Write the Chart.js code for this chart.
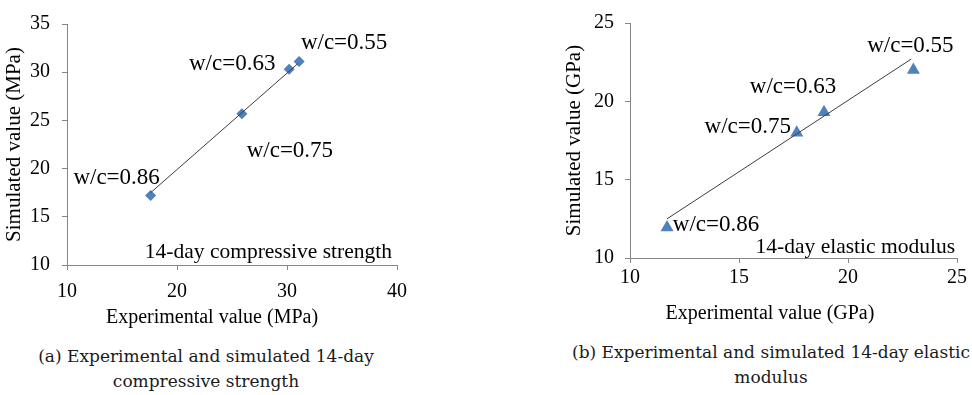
<!DOCTYPE html>
<html>
<head>
<meta charset="utf-8">
<script src="https://cdn.jsdelivr.net/npm/chart.js@4/dist/chart.umd.min.js"></script>
<style>
  html, body { margin: 0; padding: 0; background: #fff; }
  body { width: 972px; height: 395px; position: relative; overflow: hidden; }
  .panel { position: absolute; }
  .xtitle { position: absolute; font-family: "Liberation Serif", serif; font-size: 20px; line-height: 24px;
            white-space: nowrap; color: #000; transform: translateX(-50%); }
  .cap { position: absolute; width: 400px; font-family: "DejaVu Serif", serif; font-size: 17px; line-height: 25px;
         text-align: center; white-space: nowrap; color: #1a1a1a; }
  .preload { position: absolute; left: -9999px; top: 0; font-family: "Liberation Serif"; font-size: 20px; }
</style>
</head>
<body>
<span class="preload">w/c=0.55 14-day</span>
<div class="panel" style="left:0;top:0;width:420px;height:335px;"><canvas id="c1"></canvas></div>
<div class="panel" style="left:545px;top:0;width:427px;height:330px;"><canvas id="c2"></canvas></div>
<div class="xtitle" style="left:212px;top:304px;">Experimental value (MPa)</div>
<div class="xtitle" style="left:770px;top:300px;">Experimental value (GPa)</div>
<div class="cap" style="left:6px;top:344px;">(a) Experimental and simulated 14-day<br>compressive strength</div>
<div class="cap" style="left:571px;top:340px;">(b) Experimental and simulated 14-day elastic<br>modulus</div>
<script>
// ---- data ----
const wcLabels = ['w/c=0.55', 'w/c=0.63', 'w/c=0.75', 'w/c=0.86'];

const compExperimental = [31.1, 30.2, 25.9, 17.6];
const compSimulated    = [31.1, 30.3, 25.7, 17.2];
const compTrendX = [17.6, 31.0];
const compTrendY = [17.5, 30.9];
const compXTicks = [10, 20, 30, 40];
const compYTicks = [10, 15, 20, 25, 30, 35];

const elasExperimental = [23.0, 18.9, 17.65, 11.7];
const elasSimulated    = [22.0, 19.3, 18.0, 11.95];
const elasTrendX = [11.7, 22.9];
const elasTrendY = [12.5, 22.7];
const elasXTicks = [10, 15, 20, 25];
const elasYTicks = [10, 15, 20, 25];

const compNote = '14-day compressive strength';
const elasNote = '14-day elastic modulus';
const compYTitle = 'Simulated value (MPa)';
const elasYTitle = 'Simulated value (GPa)';

// ---- helpers ----
const toPts = (xs, ys) => xs.map((x, i) => ({ x: x, y: ys[i] }));
const AXIS = '#868686';
const MARK = '#4F81BD';
const SERIF = "'Liberation Serif', 'Times New Roman', serif";

const labelPlugin = {
  id: 'pointLabels',
  afterDatasetsDraw(chart, args, opts) {
    const ctx = chart.ctx;
    const meta = chart.getDatasetMeta(opts.datasetIndex);
    ctx.save();
    ctx.font = opts.font;
    ctx.fillStyle = '#000';
    ctx.textAlign = 'center';
    ctx.textBaseline = 'middle';
    opts.labels.forEach((t, i) => {
      const el = meta.data[i];
      const o = opts.offsets[i];
      ctx.fillText(t, el.x + o[0], el.y + o[1]);
    });
    const a = chart.chartArea;
    ctx.font = opts.noteFont;
    ctx.textAlign = 'right';
    ctx.fillText(opts.note, a.right - opts.noteOffset[0], a.bottom - opts.noteOffset[1]);
    ctx.restore();
  }
};

function makeScale(ticksArr, extra) {
  return Object.assign({
    type: 'linear',
    min: ticksArr[0], max: ticksArr[ticksArr.length - 1],
    afterBuildTicks: s => { s.ticks = ticksArr.map(v => ({ value: v })); },
    border: { display: true, color: AXIS, width: 1 },
    grid: { display: true, drawOnChartArea: false, drawTicks: true, tickLength: 5, color: AXIS }
  }, extra);
}

function makeChart(id, cfg) {
  return new Chart(document.getElementById(id), {
    type: 'scatter',
    data: {
      datasets: [
        {
          label: 'Trend',
          data: toPts(cfg.trendX, cfg.trendY),
          showLine: true,
          borderColor: '#3c3c3c',
          borderWidth: 1,
          pointRadius: 0,
          order: 0
        },
        {
          label: 'Simulated vs experimental',
          data: toPts(cfg.xs, cfg.ys),
          pointStyle: cfg.pointStyle,
          pointRadius: cfg.radius,
          pointBackgroundColor: MARK,
          pointBorderColor: MARK,
          pointBorderWidth: 0,
          order: 1
        }
      ]
    },
    options: {
      responsive: true,
      maintainAspectRatio: false,
      animation: false,
      layout: { padding: cfg.padding },
      plugins: {
        legend: { display: false },
        tooltip: { enabled: false },
        pointLabels: {
          datasetIndex: 1,
          labels: wcLabels,
          offsets: cfg.offsets,
          font: '23px ' + SERIF,
          note: cfg.note,
          noteFont: '21.5px ' + SERIF,
          noteOffset: cfg.noteOffset
        }
      },
      scales: {
        x: makeScale(cfg.xTicks, {
          position: 'bottom',
          afterFit: s => { s.height = cfg.xHeight; },
          ticks: { color: '#000', padding: cfg.xPad, font: { family: SERIF, size: 20 } }
        }),
        y: makeScale(cfg.yTicks, {
          position: 'left',
          afterFit: s => { s.width = cfg.yWidth; },
          ticks: { color: '#000', padding: cfg.yPad, font: { family: SERIF, size: 20 } },
          title: {
            display: true, text: cfg.yTitle, color: '#000',
            font: { family: SERIF, size: 21 },
            padding: { top: cfg.yTitlePad, bottom: 0 }
          }
        })
      }
    },
    plugins: [labelPlugin]
  });
}

function build() {
  makeChart('c1', {
    xs: compExperimental, ys: compSimulated,
    trendX: compTrendX, trendY: compTrendY,
    xTicks: compXTicks, yTicks: compYTicks,
    pointStyle: 'rectRot', radius: 5.5,
    padding: { top: 15, right: 23, left: 0, bottom: 0 },
    xHeight: 70, yWidth: 67, xPad: 10, yPad: 12, yTitlePad: 2,
    yTitle: compYTitle,
    note: compNote, noteOffset: [5, 13],
    offsets: [[45, -19], [-57, -5], [48, 37], [-34, -18]]
  });
  makeChart('c2', {
    xs: elasExperimental, ys: elasSimulated,
    trendX: elasTrendX, trendY: elasTrendY,
    xTicks: elasXTicks, yTicks: elasYTicks,
    pointStyle: 'triangle', radius: 7.5,
    padding: { top: 20, right: 15, left: 0, bottom: 0 },
    xHeight: 72, yWidth: 85, xPad: 3, yPad: 11, yTitlePad: 17,
    yTitle: elasYTitle,
    note: elasNote, noteOffset: [2, 11],
    offsets: [[-3, -24], [-31, -25], [-49, -6], [49, -2]]
  });
}

let built = false;
function go() { if (!built) { built = true; build(); } }
Promise.all([
  document.fonts.load("20px 'Liberation Serif'"),
  document.fonts.load("21px 'Liberation Serif'"),
  document.fonts.load("23px 'Liberation Serif'")
]).then(go, go);
setTimeout(go, 1500);
</script>
</body>
</html>
